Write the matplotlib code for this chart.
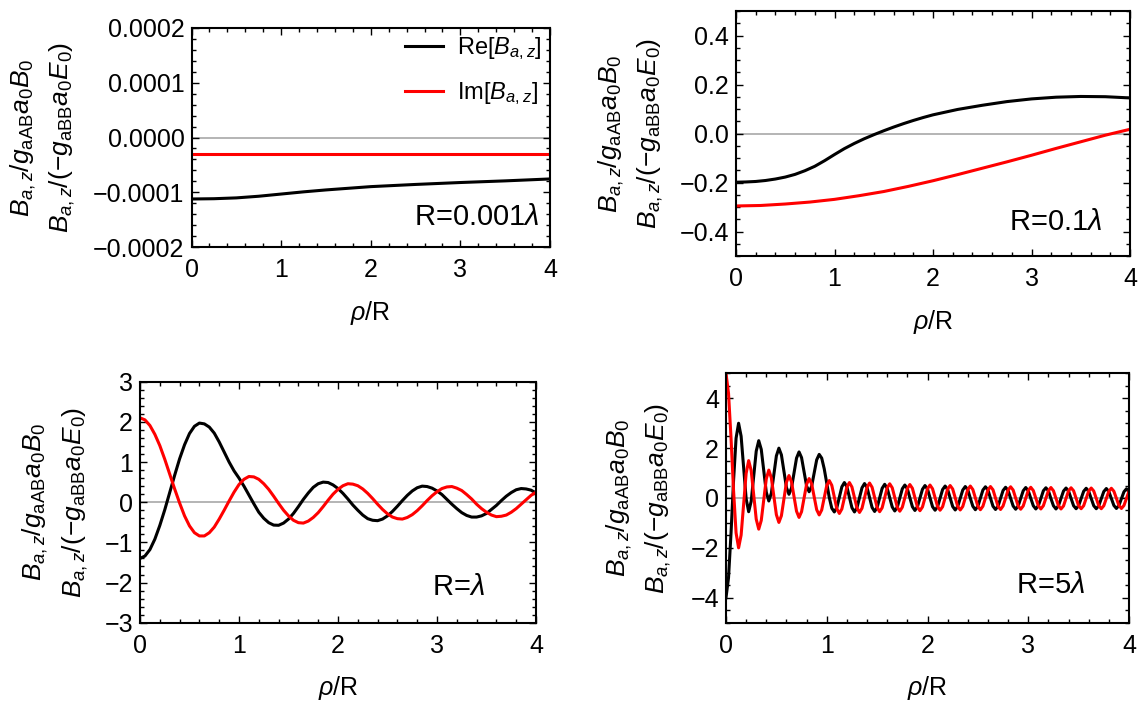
import numpy as np
import matplotlib
matplotlib.use("Agg")
import matplotlib.pyplot as plt
from matplotlib.ticker import MultipleLocator, FixedLocator, FixedFormatter

plt.rcParams['font.family'] = ['Liberation Sans', 'DejaVu Sans']
plt.rcParams['mathtext.fontset'] = 'custom'
plt.rcParams['mathtext.rm'] = 'Liberation Sans'
plt.rcParams['mathtext.it'] = 'Liberation Sans:italic'
plt.rcParams['mathtext.bf'] = 'Liberation Sans:bold'

# ---- data ----
# R = 0.001 lambda
x_r1 = [0, 0.25, 0.5, 0.75, 1.0, 1.25, 1.5, 1.75, 2.0, 2.5, 3.0, 3.5, 4.0]
re_r1 = [-1.12e-4, -1.115e-4, -1.10e-4, -1.07e-4, -1.03e-4, -0.99e-4, -0.955e-4,
         -0.925e-4, -0.895e-4, -0.855e-4, -0.82e-4, -0.79e-4, -0.755e-4]
x_i1 = [0, 4]
im_r1 = [-0.3e-4, -0.3e-4]

# R = 0.1 lambda
x_r2 = [0, 0.1, 0.2, 0.3, 0.4, 0.5, 0.6, 0.7, 0.8, 0.9, 1.0, 1.1, 1.2, 1.3, 1.4,
        1.5, 1.6, 1.7, 1.8, 1.9, 2.0, 2.25, 2.5, 2.75, 3.0, 3.25, 3.5, 3.75, 4.0]
re_r2 = [-0.198, -0.197, -0.195, -0.191, -0.185, -0.177, -0.166, -0.151, -0.133, -0.110,
         -0.085, -0.061, -0.040, -0.021, -0.004, 0.012, 0.027, 0.041, 0.054, 0.066,
         0.077, 0.099, 0.116, 0.131, 0.142, 0.149, 0.152, 0.151, 0.146]
x_i2 = [0, 0.25, 0.5, 0.75, 1.0, 1.25, 1.5, 1.75, 2.0, 2.25, 2.5, 2.75, 3.0, 3.25, 3.5, 3.75, 4.0]
im_r2 = [-0.295, -0.293, -0.287, -0.279, -0.268, -0.253, -0.236, -0.215, -0.192, -0.167,
         -0.141, -0.115, -0.088, -0.060, -0.033, -0.006, 0.018]

# R = lambda  (rho/R = 0, 0.05, ..., 4)
x_r3 = np.linspace(0, 4, 81)
re_r3 = [-1.40, -1.34, -1.18, -0.92, -0.58, -0.19, 0.24, 0.67, 1.08, 1.43,
         1.71, 1.89, 1.97, 1.95, 1.87, 1.72, 1.50, 1.25, 1.00, 0.78,
         0.60, 0.40, 0.18, -0.04, -0.25, -0.40, -0.51, -0.57, -0.575, -0.52,
         -0.42, -0.28, -0.11, 0.07, 0.23, 0.37, 0.46, 0.50, 0.49, 0.43,
         0.34, 0.22, 0.08, -0.07, -0.20, -0.32, -0.41, -0.45, -0.46, -0.42,
         -0.34, -0.23, -0.10, 0.04, 0.17, 0.28, 0.36, 0.40, 0.39, 0.35,
         0.28, 0.19, 0.07, -0.05, -0.16, -0.26, -0.33, -0.37, -0.37, -0.34,
         -0.28, -0.18, -0.08, 0.04, 0.15, 0.24, 0.31, 0.34, 0.33, 0.30,
         0.23]
im_r3 = [2.10, 2.05, 1.91, 1.69, 1.41, 1.07, 0.70, 0.33, -0.02, -0.34,
         -0.59, -0.76, -0.84, -0.84, -0.76, -0.62, -0.42, -0.20, 0.03, 0.25,
         0.44, 0.57, 0.64, 0.63, 0.57, 0.46, 0.32, 0.15, -0.03, -0.20,
         -0.34, -0.45, -0.51, -0.52, -0.47, -0.38, -0.26, -0.11, 0.05, 0.20,
         0.32, 0.41, 0.46, 0.45, 0.41, 0.33, 0.22, 0.09, -0.05, -0.18,
         -0.29, -0.37, -0.41, -0.42, -0.38, -0.31, -0.21, -0.09, 0.04, 0.16,
         0.26, 0.34, 0.38, 0.39, 0.35, 0.29, 0.19, 0.08, -0.05, -0.16,
         -0.25, -0.32, -0.36, -0.35, -0.32, -0.25, -0.16, -0.05, 0.06, 0.17,
         0.25]

# R = 5 lambda  (rho/R = 0, 0.025, ..., 4)
x_r4 = np.linspace(0, 4, 161)
re_r4 = [-4.0, -3.2, -1.4, 0.7, 2.4, 3.0, 2.48, 1.22, -0.03, -0.55,
         -0.13, 0.88, 1.88, 2.3, 1.95, 1.09, 0.23, -0.12, 0.19, 0.94,
         1.69, 2.0, 1.73, 1.08, 0.42, 0.15, 0.40, 1.0, 1.60, 1.85,
         1.62, 1.05, 0.48, 0.25, 0.47, 1.0, 1.53, 1.75, 1.60, 1.17,
         0.60, 0.02, -0.41, -0.56, -0.39, 0.03, 0.45, 0.62, 0.45, 0.03,
         -0.39, -0.56, -0.39, 0.01, 0.41, 0.58, 0.42, 0.02, -0.38, -0.54,
         -0.38, 0.01, 0.39, 0.55, 0.39, 0.02, -0.36, -0.52, -0.37, 0.0,
         0.37, 0.52, 0.37, 0.01, -0.35, -0.50, -0.35, 0.0, 0.35, 0.50,
         0.36, 0.01, -0.35, -0.49, -0.35, -0.01, 0.34, 0.48, 0.34, 0.0,
         -0.34, -0.48, -0.34, -0.01, 0.32, 0.46, 0.33, -0.01, -0.33, -0.47,
         -0.33, -0.01, 0.32, 0.45, 0.32, -0.01, -0.33, -0.46, -0.33, -0.02,
         0.30, 0.43, 0.30, -0.01, -0.32, -0.45, -0.32, -0.02, 0.29, 0.42,
         0.29, -0.01, -0.31, -0.44, -0.31, -0.02, 0.29, 0.41, 0.29, -0.02,
         -0.31, -0.44, -0.31, -0.02, 0.28, 0.40, 0.28, -0.02, -0.31, -0.43,
         -0.31, -0.02, 0.27, 0.39, 0.27, -0.02, -0.31, -0.43, -0.31, -0.03,
         0.26, 0.38, 0.26, -0.02, -0.30, -0.42, -0.30, -0.03, 0.25, 0.37,
         0.25]
im_r4 = [5.0, 4.2, 2.4, 0.3, -1.4, -2.0, -1.49, -0.25, 0.99, 1.5,
         1.10, 0.12, -0.85, -1.25, -0.90, -0.06, 0.77, 1.12, 0.81, 0.07,
         -0.67, -0.98, -0.71, -0.04, 0.63, 0.9, 0.65, 0.06, -0.53, -0.78,
         -0.55, 0.0, 0.55, 0.78, 0.57, 0.05, -0.47, -0.68, -0.48, 0.01,
         0.50, 0.70, 0.51, 0.04, -0.43, -0.62, -0.44, 0.0, 0.44, 0.62,
         0.44, 0.02, -0.40, -0.58, -0.41, 0.01, 0.43, 0.60, 0.43, 0.03,
         -0.38, -0.55, -0.39, 0.01, 0.41, 0.57, 0.41, 0.02, -0.37, -0.53,
         -0.37, 0.01, 0.38, 0.54, 0.39, 0.02, -0.36, -0.51, -0.36, 0.01,
         0.37, 0.52, 0.37, 0.02, -0.34, -0.49, -0.35, 0.01, 0.36, 0.50,
         0.36, 0.01, -0.34, -0.48, -0.34, 0.0, 0.34, 0.48, 0.34, 0.01,
         -0.33, -0.47, -0.33, -0.01, 0.32, 0.46, 0.33, 0.0, -0.33, -0.46,
         -0.32, -0.01, 0.32, 0.45, 0.32, 0.0, -0.32, -0.45, -0.32, -0.01,
         0.30, 0.43, 0.30, -0.01, -0.31, -0.44, -0.31, -0.01, 0.29, 0.42,
         0.29, -0.01, -0.31, -0.44, -0.32, -0.02, 0.29, 0.41, 0.29, -0.01,
         -0.31, -0.43, -0.31, -0.02, 0.28, 0.40, 0.28, -0.02, -0.31, -0.43,
         -0.31, -0.02, 0.27, 0.39, 0.27, -0.02, -0.30, -0.42, -0.30, -0.02,
         0.27]

panel_labels = [r"R=0.001$\lambda$", r"R=0.1$\lambda$", r"R=$\lambda$", r"R=5$\lambda$"]
ylab1 = r"$B_{a,z}/g_{\mathrm{aAB}}a_0B_0$"
ylab2 = r"$B_{a,z}/(-g_{\mathrm{aBB}}a_0E_0)$"
xlab = r"$\rho$/R"
leg_labels = [r"Re[$B_{a,z}$]", r"Im[$B_{a,z}$]"]

# ---- figure ----
W, H = 1142, 702
fig = plt.figure(figsize=(W / 100, H / 100), dpi=100)


def box(l, t, r, b):
    return [l / W, 1 - b / H, (r - l) / W, (b - t) / H]


def style(ax, ylim, ymin, yticks, ylabels):
    ax.set_xlim(0, 4)
    ax.set_ylim(*ylim)
    ax.axhline(0, color='#a0a0a0', lw=1.1, zorder=1)
    ax.xaxis.set_major_locator(MultipleLocator(1))
    ax.xaxis.set_minor_locator(MultipleLocator(0.2))
    ax.yaxis.set_major_locator(FixedLocator(yticks))
    ax.yaxis.set_major_formatter(FixedFormatter(ylabels))
    ax.yaxis.set_minor_locator(MultipleLocator(ymin))
    ax.tick_params(which='both', direction='in', top=True, right=True,
                   width=1.0, colors='black')
    ax.tick_params(which='major', length=5)
    ax.tick_params(which='minor', length=2.8)
    ax.tick_params(axis='x', labelsize=18, pad=8)
    ax.tick_params(axis='y', labelsize=18, pad=5)
    for s in ax.spines.values():
        s.set_linewidth(1.5)


def ylabels_at(xa, xb, yc):
    fig.text(xa / W, 1 - yc / H, ylab1, rotation=90, ha='center', va='center', fontsize=19)
    fig.text(xb / W, 1 - yc / H, ylab2, rotation=90, ha='center', va='center', fontsize=19)


lw = 2.2

# panel 1
ax1 = fig.add_axes(box(191.5, 27.7, 550, 247.3))
l_re, = ax1.plot(x_r1, re_r1, color='black', lw=lw)
l_im, = ax1.plot(x_i1, im_r1, color='red', lw=lw)
style(ax1, (-0.0002, 0.0002), 0.00002,
      [-0.0002, -0.0001, 0, 0.0001, 0.0002],
      ["\u22120.0002", "\u22120.0001", "0.0000", "0.0001", "0.0002"])
ax1.text(0.97, 0.14, panel_labels[0], transform=ax1.transAxes, ha='right', va='center', fontsize=21)
ax1.legend([l_re, l_im], leg_labels, loc='upper left', bbox_to_anchor=(405 / W, 1 - 35 / H),
           bbox_transform=fig.transFigure, frameon=False, fontsize=17,
           handlelength=1.6, handletextpad=0.6, labelspacing=0.8, borderpad=0, borderaxespad=0)
ax1.set_xlabel(xlab, fontsize=18, labelpad=12)
ylabels_at(23.7, 62.1, 137.5)

# panel 2
ax2 = fig.add_axes(box(736, 11.2, 1130, 256.2))
ax2.plot(x_r2, re_r2, color='black', lw=lw)
ax2.plot(x_i2, im_r2, color='red', lw=lw)
style(ax2, (-0.5, 0.5), 0.05, [-0.4, -0.2, 0, 0.2, 0.4],
      ["\u22120.4", "\u22120.2", "0.0", "0.2", "0.4"])
ax2.text(0.93, 0.14, panel_labels[1], transform=ax2.transAxes, ha='right', va='center', fontsize=21)
ax2.set_xlabel(xlab, fontsize=18, labelpad=12)
ylabels_at(611, 650.5, 133.7)

# panel 3
ax3 = fig.add_axes(box(140, 381.7, 536, 622.7))
ax3.plot(x_r3, re_r3, color='black', lw=lw)
ax3.plot(x_r3, im_r3, color='red', lw=lw)
style(ax3, (-3, 3), 0.2, [-3, -2, -1, 0, 1, 2, 3],
      ["\u22123", "\u22122", "\u22121", "0", "1", "2", "3"])
ax3.text(0.87, 0.15, panel_labels[2], transform=ax3.transAxes, ha='right', va='center', fontsize=21)
ax3.set_xlabel(xlab, fontsize=18, labelpad=12)
ylabels_at(35.4, 75.6, 502)

# panel 4
ax4 = fig.add_axes(box(726, 373.4, 1129, 622.6))
ax4.plot(x_r4, re_r4, color='black', lw=lw)
ax4.plot(x_r4, im_r4, color='red', lw=lw)
style(ax4, (-5, 5), 0.5, [-4, -2, 0, 2, 4],
      ["\u22124", "\u22122", "0", "2", "4"])
ax4.text(0.89, 0.15, panel_labels[3], transform=ax4.transAxes, ha='right', va='center', fontsize=21)
ax4.set_xlabel(xlab, fontsize=18, labelpad=12)
ylabels_at(619.3, 658.4, 498)

fig.savefig("out.png", dpi=100)
